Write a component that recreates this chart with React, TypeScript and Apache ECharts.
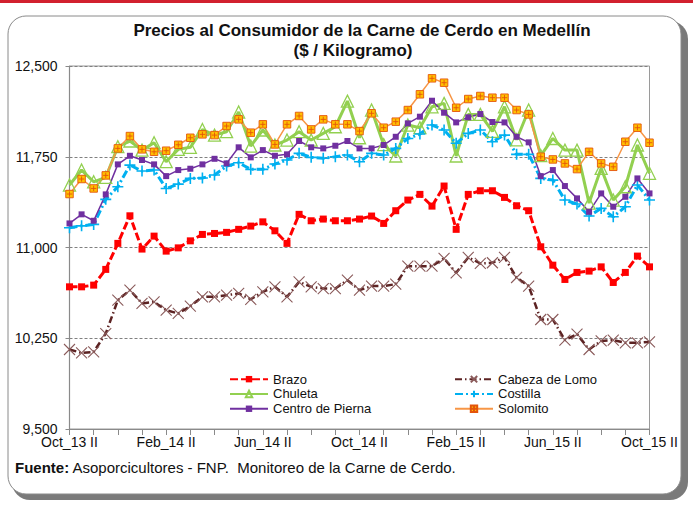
import React, { useEffect, useRef } from "react";
import * as echarts from "echarts";

const categories = [
  "Oct_13 II", "Nov_13 I", "Nov_13 II", "Dic_13 I", "Dic_13 II", "Ene_14 I", "Ene_14 II", "Feb_14 I", "Feb_14 II",
  "Mar_14 I", "Mar_14 II", "Abr_14 I", "Abr_14 II", "May_14 I", "May_14 II", "Jun_14 I", "Jun_14 II",
  "Jul_14 I", "Jul_14 II", "Ago_14 I", "Ago_14 II", "Sep_14 I", "Sep_14 II", "Oct_14 I", "Oct_14 II",
  "Nov_14 I", "Nov_14 II", "Dic_14 I", "Dic_14 II", "Ene_15 I", "Ene_15 II", "Feb_15 I", "Feb_15 II",
  "Mar_15 I", "Mar_15 II", "Abr_15 I", "Abr_15 II", "May_15 I", "May_15 II", "Jun_15 I", "Jun_15 II",
  "Jul_15 I", "Jul_15 II", "Ago_15 I", "Ago_15 II", "Sep_15 I", "Sep_15 II", "Oct_15 I", "Oct_15 II",
];

const brazo = [
  10675, 10675, 10689, 10819, 11034, 11262, 10987, 11094, 10970, 10997,
  11055, 11108, 11116, 11125, 11150, 11177, 11212, 11138, 11034, 11274,
  11221, 11235, 11221, 11221, 11235, 11260, 11199, 11304, 11392, 11439,
  11342, 11508, 11150, 11439, 11469, 11469, 11414, 11345, 11304, 11006,
  10854, 10736, 10794, 10805, 10840, 10711, 10794, 10929, 10840,
];
const cabezaDeLomo = [
  10157, 10129, 10137, 10289, 10565, 10648, 10538, 10551, 10482, 10455,
  10515, 10592, 10592, 10606, 10620, 10572, 10634, 10675, 10592, 10716,
  10675, 10661, 10661, 10730, 10648, 10681, 10681, 10697, 10846, 10846,
  10846, 10910, 10791, 10918, 10868, 10874, 10918, 10752, 10681, 10405,
  10405, 10234, 10284, 10157, 10228, 10234, 10212, 10212, 10220,
];
const chuleta = [
  11516, 11640, 11543, 11580, 11833, 11880, 11805, 11866, 11709, 11811,
  11828, 11975, 11929, 11957, 12120, 11838, 11971, 11847, 11888, 11957,
  11888, 11943, 11998, 12210, 11907, 12136, 11850, 11756, 12012, 11990,
  12163, 12191, 11756, 12100, 12100, 11960, 12163, 11890, 12136, 11760,
  11901, 11805, 11805, 11367, 11654, 11392, 11502, 11847, 11613,
];
const costilla = [
  11163, 11179, 11191, 11398, 11502, 11681, 11632, 11640, 11488, 11524,
  11571, 11574, 11599, 11673, 11700, 11646, 11646, 11690, 11723, 11778,
  11745, 11737, 11750, 11764, 11709, 11778, 11764, 11819, 11901, 11938,
  12012, 11971, 11861, 11943, 11971, 11874, 11929, 11770, 11770, 11571,
  11557, 11392, 11359, 11260, 11323, 11254, 11337, 11516, 11392,
];
const centroDePierna = [
  11199, 11274, 11221, 11439, 11687, 11758, 11723, 11687, 11590, 11640,
  11651, 11687, 11733, 11695, 11828, 11745, 11805, 11758, 11770, 11880,
  11828, 11819, 11841, 11880, 11819, 11819, 11847, 11915, 12026, 12081,
  12213, 12114, 12034, 12076, 12103, 12037, 12034, 11915, 11869, 11590,
  11640, 11508, 11406, 11295, 11447, 11337, 11419, 11571, 11447,
];
const solomito = [
  11442, 11566, 11488, 11596, 11819, 11921, 11811, 11791, 11800, 11849,
  11907, 11935, 11929, 12004, 12059, 11949, 12018, 11852, 12018, 12087,
  11976, 12059, 12018, 12018, 11962, 12109, 11990, 12040, 12136, 12266,
  12398, 12362, 12155, 12227, 12252, 12238, 12238, 12136, 12100, 11750,
  11728, 11695, 11648, 11791, 11695, 11667, 11874, 11990, 11866,
];

const yTicks = [9500, 10250, 11000, 11750, 12500];

const FONT = "'Liberation Sans Narrow', 'Arial Narrow', 'Liberation Sans', Arial, sans-serif";

export default function App() {
  const ref = useRef<HTMLDivElement>(null);
  useEffect(() => {
    if (!ref.current) return;
    const chart = echarts.init(ref.current, undefined, { renderer: "svg" });
    const X = "path://M0,0L10,10M10,0L0,10";
    const PLUS = "path://M5,0L5,10M0,5L10,5";
    const SOL = "path://M0,0L10,0L10,10L0,10Z M5,1.5L5,8.5 M1.5,5L8.5,5";
    chart.setOption({
      animation: false,
      backgroundColor: "#ffffff",
      textStyle: { fontFamily: FONT },
      graphic: [
        { type: "rect", z: -10, shape: { x: 0, y: 0, width: 693, height: 3 }, style: { fill: "#d2202e" } },
        { type: "rect", z: -9, shape: { x: 12, y: 21, width: 676, height: 479, r: 18 }, style: { fill: "#7a7a7a" } },
        { type: "rect", z: -8, shape: { x: 8, y: 16, width: 673, height: 478, r: 18 }, style: { fill: "#ffffff", stroke: "#8a8a8a", lineWidth: 1 } },
        {
          type: "text", z: 10,
          style: {
            x: 362, y: 30, text: "Precios al Consumidor de la Carne de Cerdo en Medellín",
            font: "bold 17px " + FONT, fill: "#111", align: "center", verticalAlign: "middle",
          },
        },
        {
          type: "text", z: 10,
          style: {
            x: 353, y: 50, text: "($ / Kilogramo)",
            font: "bold 17px " + FONT, fill: "#111", align: "center", verticalAlign: "middle",
          },
        },
        {
          type: "text", z: 10, x: 15, y: 467,
          style: {
            text: "{b|Fuente:} Asoporcicultores - FNP.  Monitoreo de la Carne de Cerdo.",
            verticalAlign: "middle",
            rich: {
              b: { font: "bold 15px " + FONT, fill: "#111" },
            },
            font: "15px " + FONT, fill: "#111",
          },
        },
      ],
      grid: {
        left: 69.5, right: 43.5, top: 66, bottom: 79,
        show: true, borderColor: "#9a9a9a", borderWidth: 1,
      },
      legend: [
        {
          data: ["Brazo", "Chuleta", "Centro de Pierna"],
          orient: "vertical", left: 224, top: 367, itemWidth: 38, itemHeight: 8, itemGap: 0.5,
          textStyle: { fontFamily: FONT, fontSize: 13, color: "#111", lineHeight: 14.3 },
        },
        {
          data: ["Cabeza de Lomo", "Costilla", "Solomito"],
          orient: "vertical", left: 449, top: 367, itemWidth: 38, itemHeight: 8, itemGap: 0.5,
          textStyle: { fontFamily: FONT, fontSize: 13, color: "#111", lineHeight: 14.3 },
        },
      ],
      xAxis: {
        type: "category", data: categories, boundaryGap: false,
        axisLine: { lineStyle: { color: "#8a8a8a", width: 1.2 } },
        axisTick: { interval: 1, length: 6, lineStyle: { color: "#8a8a8a" } },
        axisLabel: { interval: 7, fontFamily: FONT, fontSize: 14, color: "#111", margin: 6 },
        splitLine: { show: false },
      },
      yAxis: {
        type: "value", min: yTicks[0], max: yTicks[yTicks.length - 1], interval: 750,
        axisLine: { show: true, lineStyle: { color: "#8a8a8a", width: 1.2 } },
        axisTick: { show: true, length: 4, lineStyle: { color: "#8a8a8a" } },
        axisLabel: {
          fontFamily: FONT, fontSize: 14, color: "#111", margin: 12,
          formatter: (v: number) => v.toLocaleString("en-US"),
        },
        splitLine: { show: true, lineStyle: { color: "#808080", type: [3, 2], width: 1 } },
      },
      series: [
        {
          name: "Brazo", type: "line", data: brazo, symbol: "rect", symbolSize: 7, showAllSymbol: true,
          lineStyle: { color: "#ff0000", width: 3, type: [8, 3] },
          itemStyle: { color: "#ff0000" }, color: "#ff0000",
        },
        {
          name: "Cabeza de Lomo", type: "line", data: cabezaDeLomo, symbol: X, symbolSize: 11, showAllSymbol: true,
          lineStyle: { color: "#5c2222", width: 2.5, type: [7, 3, 1.5, 3] },
          itemStyle: { color: "#8a5a5a", borderColor: "#8a5a5a", borderWidth: 1.1 }, color: "#5c2222",
        },
        {
          name: "Chuleta", type: "line", data: chuleta, symbol: "triangle", symbolSize: 12, showAllSymbol: true,
          lineStyle: { color: "#92d050", width: 3 },
          itemStyle: { color: "rgba(255,255,255,0)", borderColor: "#92d050", borderWidth: 1.3 }, color: "#92d050",
        },
        {
          name: "Costilla", type: "line", data: costilla, symbol: PLUS, symbolSize: 11, showAllSymbol: true,
          lineStyle: { color: "#00b0f0", width: 3, type: [8, 3, 2, 3] },
          itemStyle: { color: "#00b0f0", borderColor: "#00b0f0", borderWidth: 1.6 }, color: "#00b0f0",
        },
        {
          name: "Centro de Pierna", type: "line", data: centroDePierna, symbol: "rect", symbolSize: 6, showAllSymbol: true,
          lineStyle: { color: "#7030a0", width: 1.5 },
          itemStyle: { color: "#7030a0" }, color: "#7030a0",
        },
        {
          name: "Solomito", type: "line", data: solomito, symbol: SOL, symbolSize: 7.5, showAllSymbol: true,
          lineStyle: { color: "#f79646", width: 1.5 },
          itemStyle: { color: "#ffc000", borderColor: "#e4540a", borderWidth: 0.9 }, color: "#f79646",
        },
      ],
    });
    return () => chart.dispose();
  }, []);
  return (
    <div
      ref={ref}
      style={{ position: "absolute", left: 0, top: 0, width: 693, height: 508 }}
    />
  );
}
